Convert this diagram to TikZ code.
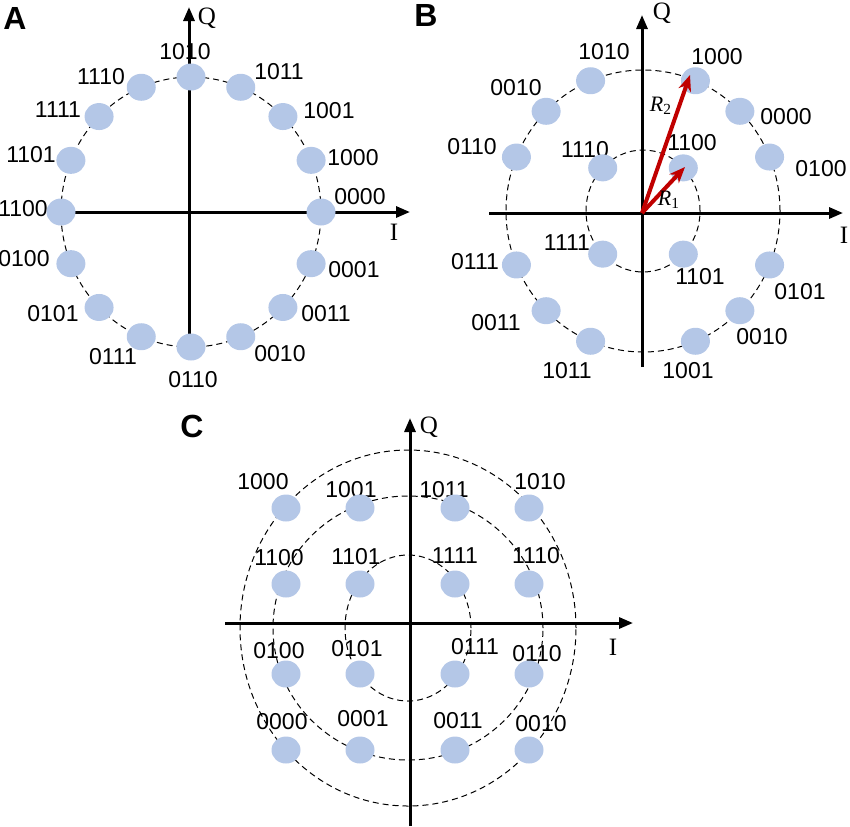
\documentclass[tikz,border=0pt]{standalone}
\usepackage{fontspec}
\setmainfont{Liberation Sans}
\newfontfamily\axfont{Liberation Serif}
\usetikzlibrary{arrows.meta, shapes.geometric}
\definecolor{ptblue}{RGB}{180, 199, 231}
\definecolor{vecred}{RGB}{192, 0, 0}

\tikzset{
  axisline/.style={line width=1.5pt, -{Triangle[length=7pt, width=5.5pt]}},
  ring/.style={dash pattern=on 3pt off 2pt, line width=0.5pt},
  cpoint/.style={ellipse, fill=ptblue, minimum width=14.5pt,
                 minimum height=13.5pt, inner sep=0pt},
  axlab/.style={font=\axfont\fontsize{12.5}{14}\selectfont},
  rlab/.style={font=\axfont\itshape\fontsize{11}{12}\selectfont, inner sep=0pt},
  panel/.style={font=\fontsize{16}{18}\selectfont\bfseries},
  vec/.style={vecred, line width=2pt, -{Stealth[length=8pt, width=6.5pt]}}
}

\begin{document}
\begin{tikzpicture}[x=0.5pt, y=-0.5pt, font=\fontsize{11.5}{13}\selectfont]
  \useasboundingbox (0,0) rectangle (850,826);

  % A: 16-point ring
  \coordinate (ao) at (191,212);
  \draw[ring] (ao) ellipse [x radius=65pt, y radius=67.5pt];
  \foreach \a/\code/\lx/\ly [count=\i] in
      {0/0000/360/197, 22.5/1000/353/158, 45/1001/329/111, 67.5/1011/279/72,
       90/1010/185/52, 112.5/1110/101/77, 135/1111/58/110, 157.5/1101/31/155,
       180/1100/23/209, 202.5/0100/24/259, 225/0101/53/314, 247.5/0111/113/357,
       270/0110/193/380, 292.5/0010/280/354, 315/0011/326/314, 337.5/0001/354/270}
    \node (al\i) at (\lx,\ly) {\code};
  \coordinate (ab) at (189,348);
  \coordinate (at) at (189,7);
  \coordinate (al) at (62,212);
  \coordinate (ar) at (410,212);
  \draw[axisline] (ab) -- (at);
  \draw[axisline] (al) -- (ar);
  \foreach \a [count=\i] in {0,22.5,...,337.5}
    \path (ao) ++({65pt*cos(\a)}, {67.5pt*sin(\a)}) node[cpoint] (ap\i) {};
  \node[axlab] (aq) at (207,18) {Q};
  \node[axlab] (ai) at (394,232) {I};
  \node[panel] (pa) at (15,18) {A};

  % B: 4 + 12 rings
  \coordinate (bo) at (643,211);
  \draw[ring] (bo) ellipse [x radius=68.5pt, y radius=70.5pt];
  \draw[ring] (bo) ellipse [x radius=28.5pt, y radius=30.5pt];
  \foreach \a/\code/\lx/\ly [count=\i] in
      {22.5/0100/821/169, 45/0000/786/117, 67.5/1000/717/57, 112.5/1010/604/52,
       135/0010/516/88, 157.5/0110/472/147, 202.5/0111/475/262, 225/0011/496/323,
       247.5/1011/567/371, 292.5/1001/688/371, 315/0010/762/337, 337.5/0101/800/292}
    \node (bl\i) at (\lx,\ly) {\code};
  \foreach \a/\code/\lx/\ly [count=\i] in
      {45/1100/692/143, 135/1110/585/150, 225/1111/567/243, 315/1101/700/277}
    \node (bm\i) at (\lx,\ly) {\code};
  \coordinate (bb) at (642,367);
  \coordinate (bt) at (642,15);
  \coordinate (bl) at (489,213);
  \coordinate (br) at (843,213);
  \draw[axisline] (bb) -- (bt);
  \draw[axisline] (bl) -- (br);
  \foreach \a [count=\i] in {22.5,45,67.5,112.5,135,157.5,202.5,225,247.5,292.5,315,337.5}
    \path (bo) ++({68.5pt*cos(\a)}, {70.5pt*sin(\a)}) node[cpoint] (bp\i) {};
  \foreach \a [count=\i] in {45,135,225,315}
    \path (bo) ++({28.5pt*cos(\a)}, {30.5pt*sin(\a)}) node[cpoint] (bq\i) {};
  \coordinate (bc) at (642,213);
  \coordinate (tiptwo) at (690,75);
  \coordinate (tipone) at (685,167);
  \draw[vec] (bc) -- (tiptwo);
  \draw[vec] (bc) -- (tipone);
  \node[rlab] (rtwo) at (661,106) {R\textsubscript{\upshape 2}};
  \node[rlab] (rone) at (669,200) {R\textsubscript{\upshape 1}};
  \node[axlab] (bq) at (662,13) {Q};
  \node[axlab] (bi) at (844,235) {I};
  \node[panel] (pb) at (426,15) {B};

  % C: square grid on three rings
  \coordinate (co) at (408,628);
  \draw[ring] (co) ellipse [x radius=84pt, y radius=89pt];
  \draw[ring] (co) ellipse [x radius=67.5pt, y radius=66pt];
  \draw[ring] (co) ellipse [x radius=31.5pt, y radius=36.5pt];
  \foreach \code/\lx/\ly [count=\i] in
      {1000/263/482, 1001/351/490, 1011/444/490, 1010/540/482,
       1100/279/558, 1101/356/557, 1111/455/556, 1110/536/556,
       0100/279/651, 0101/357/649, 0111/475/647, 0110/537/654,
       0000/282/722, 0001/363/719, 0011/458/721, 0010/541/724}
    \node (cl\i) at (\lx,\ly) {\code};
  \coordinate (cb) at (410,826);
  \coordinate (ct) at (410,418);
  \coordinate (cl) at (225,623);
  \coordinate (cr) at (633,623);
  \draw[axisline] (cb) -- (ct);
  \draw[axisline] (cl) -- (cr);
  \foreach \cy [count=\r] in {508,584,674,750}
    \foreach \cx [count=\c] in {286,360,455,529}
      \node[cpoint] (cp\r\c) at (\cx,\cy) {};
  \node[axlab] (cq) at (429,427) {Q};
  \node[axlab] (ci) at (613,647) {I};
  \node[panel] (pc) at (192,426) {C};
\end{tikzpicture}
\end{document}
